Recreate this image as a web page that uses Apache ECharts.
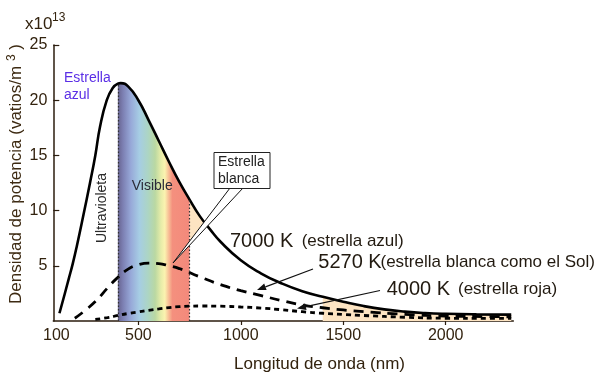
<!DOCTYPE html>
<html>
<head>
<meta charset="utf-8">
<script src="https://cdn.jsdelivr.net/npm/echarts@6/dist/echarts.min.js"></script>
<style>
html,body{margin:0;padding:0;background:#fff;}
#chart{width:601px;height:386px;}
</style>
</head>
<body>
<div id="chart"></div>
<script>
// ---- data (values in units of 10^13 W/m^3) ----
const wavelengths7000 = [115, 140, 160, 180, 200, 232, 264, 290, 313, 346, 375, 400, 414, 450, 500, 550, 600, 650, 700, 750, 800, 850, 900, 1000, 1100, 1200, 1300, 1400, 1500, 1600, 1700, 1800, 1900, 2000, 2150, 2320];
const values7000      = [0.7, 2.4, 3.8, 5.2, 6.8, 9.6, 12.5, 15.0, 17.6, 20.0, 21.1, 21.5, 21.55, 21.25, 20.0, 18.2, 16.3, 14.4, 12.6, 11.0, 9.5, 8.3, 7.2, 5.5, 4.3, 3.4, 2.7, 2.2, 1.75, 1.35, 1.05, 0.85, 0.72, 0.65, 0.6, 0.58];

const wavelengths5270 = [190, 250, 300, 350, 400, 450, 500, 550, 600, 650, 700, 800, 900, 1000, 1100, 1200, 1300, 1400, 1500, 1600, 1800, 2000, 2200, 2320];
const values5270      = [0.25, 1.1, 1.95, 3.0, 3.95, 4.7, 5.1, 5.25, 5.2, 5.0, 4.75, 4.0, 3.3, 2.75, 2.3, 1.85, 1.45, 1.2, 1.0, 0.85, 0.6, 0.45, 0.4, 0.38];

const wavelengths4000 = [290, 350, 400, 450, 500, 550, 600, 650, 700, 750, 800, 900, 1000, 1100, 1200, 1300, 1400, 1500, 1600, 1800, 2000, 2200, 2320];
const values4000      = [0.15, 0.3, 0.5, 0.68, 0.82, 0.97, 1.1, 1.22, 1.3, 1.34, 1.36, 1.34, 1.27, 1.17, 1.02, 0.84, 0.7, 0.6, 0.5, 0.34, 0.25, 0.24, 0.24];

const xTickLabels = [100, 500, 1000, 1500, 2000];
const xTickMarks  = [500, 1000, 1500, 2000];
const visibleBand = [400, 750];
const infraredFillFrom = 1400;

// ---- build ----
const FONT = "'Liberation Sans', Arial, Helvetica, sans-serif";
const AX = '#2b1d0e';
const TXT = '#33230f';

function pairs(xs, ys, lo, hi) {
  const out = [];
  for (let i = 0; i < xs.length; i++) {
    if (xs[i] >= lo && xs[i] <= hi) out.push([xs[i], ys[i]]);
  }
  return out;
}
const line7000 = pairs(wavelengths7000, values7000, -Infinity, Infinity);
const line5270 = pairs(wavelengths5270, values5270, -Infinity, Infinity);
const line4000 = pairs(wavelengths4000, values4000, -Infinity, Infinity);
const bandData = pairs(wavelengths7000, values7000, visibleBand[0], visibleBand[1]);
const irData = pairs(wavelengths7000, values7000, infraredFillFrom, Infinity);
const vAt400 = values7000[wavelengths7000.indexOf(visibleBand[0])];
const vAt750 = values7000[wavelengths7000.indexOf(visibleBand[1])];

const SMOOTH = 0.5;

function arrow(x1, y1, x2, y2) {
  const dx = x2 - x1, dy = y2 - y1, L = Math.hypot(dx, dy), ux = dx / L, uy = dy / L;
  const hl = 9, hw = 3.5;
  const bx = x2 - ux * hl, by = y2 - uy * hl;
  return [
    { type: 'line', z: 50, shape: { x1: x1, y1: y1, x2: bx, y2: by }, style: { stroke: '#111', lineWidth: 1.2 } },
    { type: 'polygon', z: 50, shape: { points: [[x2, y2], [bx - uy * hw, by + ux * hw], [bx + uy * hw, by - ux * hw]] }, style: { fill: '#111' } }
  ];
}
function txt(x, y, text, size, color, align, extra) {
  return Object.assign({
    type: 'text', z: 60,
    style: { x: x, y: y, text: text, fontSize: size, fontFamily: FONT, fill: color, textAlign: align || 'left', textVerticalAlign: 'middle' }
  }, extra || {});
}

const chart = echarts.init(document.getElementById('chart'), null, { renderer: 'canvas' });

const option = {
  animation: false,
  backgroundColor: '#ffffff',
  grid: { left: 53.3, top: 45, width: 460, height: 276 },
  xAxis: {
    type: 'value', min: 85, max: 2330,
    axisLine: { show: true, lineStyle: { color: AX, width: 1.5 } },
    axisTick: { show: true, customValues: xTickMarks, length: 4, lineStyle: { color: AX, width: 1.2 } },
    axisLabel: { customValues: xTickLabels, fontSize: 16, color: TXT, margin: 7, fontFamily: FONT, formatter: function (v) { return String(v); } },
    splitLine: { show: false }
  },
  yAxis: {
    type: 'value', min: 0, max: 25, interval: 5,
    axisLine: { show: true, lineStyle: { color: AX, width: 1.5 } },
    axisTick: { show: true, inside: true, length: 6, lineStyle: { color: AX, width: 1.2 } },
    axisLabel: { fontSize: 16, color: TXT, margin: 6, fontFamily: FONT, showMinLabel: false },
    splitLine: { show: false }
  },
  series: [
    {
      name: 'visible', type: 'line', data: bandData, smooth: SMOOTH, symbol: 'none', z: 1,
      lineStyle: { width: 0 },
      areaStyle: {
        opacity: 1,
        color: new echarts.graphic.LinearGradient(0, 0, 1, 0, [
          { offset: 0.00, color: '#67648f' },
          { offset: 0.07, color: '#7c7fb2' },
          { offset: 0.18, color: '#97a8d8' },
          { offset: 0.30, color: '#a6cde4' },
          { offset: 0.42, color: '#acd5c4' },
          { offset: 0.52, color: '#bad8a2' },
          { offset: 0.60, color: '#e6eca8' },
          { offset: 0.655, color: '#fbf3b0' },
          { offset: 0.70, color: '#f8c79a' },
          { offset: 0.76, color: '#f4907e' },
          { offset: 1.00, color: '#f3897b' }
        ])
      },
      markLine: {
        silent: true, symbol: 'none', label: { show: false },
        lineStyle: { color: '#333', type: [1.5, 2], width: 1.2 },
        data: [
          [{ coord: [visibleBand[0], 0] }, { coord: [visibleBand[0], vAt400] }],
          [{ coord: [visibleBand[1], 0] }, { coord: [visibleBand[1], vAt750] }]
        ]
      }
    },
    {
      name: 'ir', type: 'line', data: irData, smooth: SMOOTH, symbol: 'none', z: 1,
      lineStyle: { width: 0 }, areaStyle: { color: '#fde4c2', opacity: 1 }
    },
    {
      name: '7000 K', type: 'line', data: line7000, smooth: SMOOTH, symbol: 'none', z: 4,
      lineStyle: { color: '#000', width: 2.6 }
    },
    {
      name: '5270 K', type: 'line', data: line5270, smooth: SMOOTH, symbol: 'none', z: 4,
      lineStyle: { color: '#000', width: 2.8, type: [10, 7] }
    },
    {
      name: '4000 K', type: 'line', data: line4000, smooth: SMOOTH, symbol: 'none', z: 4,
      lineStyle: { color: '#000', width: 2.8, type: [5, 4] }
    }
  ],
  graphic: [
    // small infrared wedge next to the visible band
    { type: 'polygon', z: 0, shape: { points: [[189.6, 199.6], [194.7, 208.4], [205, 222], [189.6, 241.2]] }, style: { fill: '#fde4c2' } },
    // callout "Estrella blanca"
    { type: 'polygon', z: 40, shape: { points: [[230, 188], [243, 188], [173, 263]] }, style: { fill: '#fff' } },
    { type: 'polyline', z: 41, shape: { points: [[230, 188], [173, 263], [243, 188]] }, style: { stroke: '#111', lineWidth: 1, fill: null } },
    { type: 'rect', z: 42, shape: { x: 214, y: 152.5, width: 56, height: 36 }, style: { fill: '#fff', stroke: '#222', lineWidth: 1 } },
    txt(218, 161.7, 'Estrella', 14, '#222', 'left', { z: 43 }),
    txt(218, 179.3, 'blanca', 14, '#222', 'left', { z: 43 }),
    // multiplier
    txt(25, 24, 'x10', 17, TXT),
    txt(52, 17.5, '13', 12, TXT),
    // axis titles
    {
      type: 'text', z: 60, x: 16, y: 174, rotation: Math.PI / 2,
      style: {
        text: '{a|Densidad de potencia (vatios/m }{b|3}{a| )}',
        textAlign: 'center', textVerticalAlign: 'middle', fill: '#3d2a12', fontFamily: FONT,
        rich: {
          a: { fontSize: 17, lineHeight: 20, fontFamily: FONT, fill: '#3d2a12' },
          b: { fontSize: 12, lineHeight: 20, verticalAlign: 'top', fontFamily: FONT, fill: '#3d2a12' }
        }
      }
    },
    txt(319.5, 364, 'Longitud de onda (nm)', 17, TXT, 'center'),
    // region labels
    txt(64, 78, 'Estrella', 14, '#5a2ee6'),
    txt(64, 95, 'azul', 14, '#5a2ee6'),
    {
      type: 'text', z: 60, x: 102.5, y: 208, rotation: Math.PI / 2,
      style: { text: 'Ultravioleta', fontSize: 14, fontFamily: FONT, fill: '#2a2a2a', textAlign: 'center', textVerticalAlign: 'middle' }
    },
    txt(131.7, 186, 'Visible', 14, '#2a2a38'),
    // curve labels
    txt(230, 241, '7000 K', 20, '#221a10'),
    txt(301.7, 241, '(estrella azul)', 17, '#221a10'),
    txt(318.3, 262.7, '5270 K', 20, '#221a10'),
    txt(380.5, 262.7, '(estrella blanca como el Sol)', 17, '#221a10'),
    txt(386.7, 289.3, '4000 K', 20, '#221a10'),
    txt(458, 289.3, '(estrella roja)', 17, '#221a10')
  ].concat(arrow(313, 269, 257, 290)).concat(arrow(380, 290.5, 297, 308.5))
};
chart.setOption(option);
</script>
</body>
</html>
